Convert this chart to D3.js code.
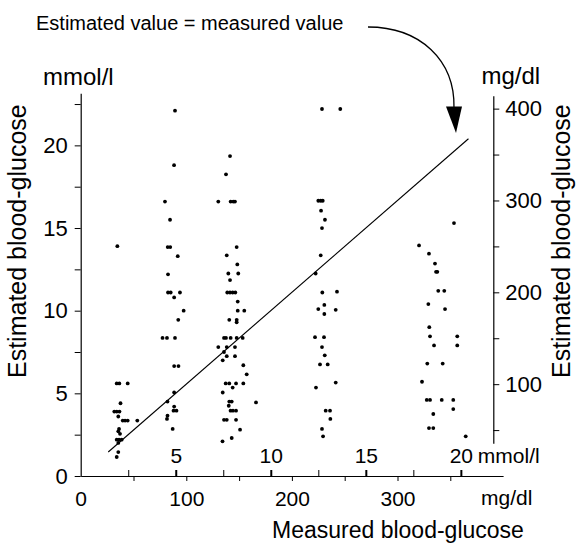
<!DOCTYPE html>
<html>
<head>
<meta charset="utf-8">
<script src="https://cdn.jsdelivr.net/npm/d3@7"></script>
<style>
  html, body { margin: 0; padding: 0; background: #fff; }
  svg { display: block; }
  text { font-family: "Liberation Sans", Arial, sans-serif; fill: #000; }
</style>
</head>
<body>
<svg id="chart" width="576" height="547"></svg>
<script>
// Measured blood-glucose (mg/dl) and estimated blood-glucose (mmol/l), one entry per patient estimate
const measuredMgdl = [
  // ~ 2 mmol/l group
  34.7, 34.1, 36.6, 44.5, 37.7, 31.8, 34.1, 36.7, 35.6, 39.8, 42.0, 44.5, 53.6,
  36.3, 35.6, 37.2, 34.1, 36.3, 38.8, 35.6, 35.6, 34.1,
  // ~ 5 mmol/l group
  89.3, 88.4, 79.8, 84.6, 82.4, 84.8, 91.9, 82.7, 82.7, 85.2, 94.0, 88.5, 97.5,
  92.4, 77.5, 81.7, 89.3, 88.5, 92.6, 88.5, 82.2, 88.5, 87.9, 90.7, 82.2, 81.7, 87.1,
  // ~ 8 mmol/l group
  141.4, 137.6, 130.3, 142.0, 144.5, 146.1, 147.7, 138.3, 148.3, 139.8, 149.2, 141.4,
  138.8, 141.4, 143.9, 146.4, 148.7, 148.7, 154.9, 140.7, 147.7, 147.7, 135.7, 137.6,
  142.0, 147.7, 153.4, 130.3, 138.3, 146.1, 135.7, 138.3, 146.1, 134.5, 154.0, 157.2,
  137.3, 140.7, 147.1, 154.0, 143.9, 134.5, 166.0, 140.7, 143.0, 140.2, 141.9, 144.2,
  147.1, 135.7, 138.3, 147.1, 150.9, 143.0, 134.3,
  // ~ 12.5 mmol/l group
  228.5, 245.8, 225.0, 227.3, 229.2, 227.6, 231.3, 228.5, 227.3, 222.5, 228.8, 242.7,
  230.7, 225.0, 230.7, 241.5, 221.9, 230.4, 228.5, 231.1, 226.6, 233.9, 222.8, 241.5,
  232.0, 236.1, 236.4, 228.5, 229.5,
  // ~ 18.5 mmol/l group
  353.5, 320.4, 329.8, 335.5, 336.5, 337.7, 338.6, 344.3, 329.2, 345.0, 330.1, 330.8,
  356.6, 334.6, 356.6, 328.2, 342.8, 323.2, 327.7, 330.8, 341.9, 352.8, 333.9, 352.8,
  329.8, 333.9, 364.6
];
const estimatedMmol = [
  13.9, 5.6, 5.6, 5.6, 4.4, 3.9, 3.9, 3.9, 3.6, 3.35, 3.35, 3.35, 3.35,
  2.85, 2.7, 2.55, 2.2, 2.2, 2.2, 2.0, 1.45, 1.15,
  22.1, 18.8, 16.6, 15.5, 13.85, 13.85, 13.3, 12.2, 11.1, 11.1, 11.1, 10.8, 10.0,
  9.45, 8.35, 8.35, 8.35, 6.65, 6.65, 5.05, 4.5, 4.2, 3.95, 3.95, 3.65, 3.45, 2.85,
  19.35, 18.25, 16.6, 16.6, 16.6, 16.6, 13.85, 13.35, 12.8, 12.25, 12.25, 11.85,
  11.1, 11.1, 11.1, 11.1, 10.55, 10.0, 10.0, 9.45, 9.45, 9.3, 8.35, 8.35,
  8.35, 8.35, 8.35, 7.8, 7.8, 7.8, 7.5, 7.25, 7.25, 7.0, 6.7, 6.15,
  5.6, 5.6, 5.6, 5.6, 5.35, 5.05, 4.45, 4.5, 4.5, 4.25, 3.95, 3.95,
  3.95, 3.4, 3.4, 3.4, 2.8, 2.3, 2.1,
  22.2, 22.2, 16.65, 16.65, 16.65, 16.05, 15.5, 15.0, 13.35, 12.25, 11.1, 11.15,
  10.35, 10.1, 9.8, 10.05, 8.4, 8.4, 7.8, 7.3, 6.75, 6.75, 5.35, 5.65,
  3.95, 3.95, 3.45, 2.85, 2.4,
  15.3, 13.95, 13.45, 12.85, 12.35, 12.35, 11.2, 11.2, 10.4, 10.1, 9.0, 8.45,
  8.45, 7.9, 7.9, 6.8, 6.8, 5.7, 4.6, 4.6, 4.6, 4.6, 3.75, 4.05,
  2.9, 2.9, 2.4
];

// Axis tick values and labels
const mgdlPerMmol = 18;
const xMgTicks = [0, 50, 100, 150, 200, 250, 300, 350];
const xMgLabels = [0, 100, 200, 300];
const xMmolTicks = [2.5, 5, 7.5, 10, 12.5, 15, 17.5, 20];
const xMmolLabels = [5, 10, 15, 20];
const yMmolTicks = [0, 2.5, 5, 7.5, 10, 12.5, 15, 17.5, 20, 22.5];
const yMmolLabels = [0, 5, 10, 15, 20];
const yMgTicks = [50, 100, 150, 200, 250, 300, 350, 400];
const yMgLabels = [100, 200, 300, 400];
const identityLine = [1.45, 20.4]; // mmol/l, estimated = measured

const texts = {
  annotation: "Estimated value = measured value",
  yUnitLeft: "mmol/l",
  yUnitRight: "mg/dl",
  xUnitMg: "mg/dl",
  xUnitMmol: "mmol/l",
  yTitle: "Estimated blood-glucose",
  xTitle: "Measured blood-glucose"
};

const svg = d3.select("#chart");
svg.append("rect").attr("width", 576).attr("height", 547).attr("fill", "#fff");

// Scales
const xMg = d3.scaleLinear().domain([0, 400]).range([80.7, 503.1]);
const xMmol = d3.scaleLinear().domain([0, 400 / mgdlPerMmol]).range([80.7, 503.1]);
const yTopMmol = 23.15;
const yMmol = d3.scaleLinear().domain([0, yTopMmol]).range([476, 93.3]);
const yMg = d3.scaleLinear().domain([0, yTopMmol * mgdlPerMmol]).range([476, 93.3]);

// Left axis (mmol/l)
const gL = svg.append("g").attr("transform", "translate(80.7,0)")
  .call(d3.axisLeft(yMmol).tickValues(yMmolTicks).tickSize(6).tickSizeOuter(0).tickPadding(7)
    .tickFormat(d => yMmolLabels.includes(d) ? d : ""));
gL.selectAll("text").attr("font-size", 22).attr("font-family", "Liberation Sans, Arial, sans-serif");

// Right axis (mg/dl)
const yMgR = d3.scaleLinear().domain([35.6, 414]).range([yMg(35.6), yMg(414)]);
const gR = svg.append("g").attr("transform", "translate(493.3,0)")
  .call(d3.axisRight(yMgR).tickValues(yMgTicks).tickSize(6).tickSizeOuter(0).tickPadding(6)
    .tickFormat(d => yMgLabels.includes(d) ? d : ""));
gR.selectAll("text").attr("font-size", 22).attr("font-family", "Liberation Sans, Arial, sans-serif");

// Bottom axis (mg/dl)
const gB = svg.append("g").attr("transform", "translate(0,476)")
  .call(d3.axisBottom(xMg).tickValues(xMgTicks).tickSize(5).tickSizeOuter(0).tickPadding(10)
    .tickFormat(d => xMgLabels.includes(d) ? d : ""));
gB.selectAll(".tick line").filter(d => d === 0).remove();
gB.selectAll("text").attr("font-size", 21).attr("font-family", "Liberation Sans, Arial, sans-serif");

// Inner mmol/l scale on the measured axis
const gM = svg.append("g").attr("transform", "translate(0,476)")
  .call(d3.axisTop(xMmol).tickValues(xMmolTicks).tickSize(6).tickPadding(7)
    .tickFormat(d => xMmolLabels.includes(d) ? d : ""));
gM.select(".domain").remove();
gM.selectAll(".tick line").attr("stroke-width", d => xMmolLabels.includes(d) ? 2 : 1);
gM.selectAll("text").attr("font-size", 21).attr("font-family", "Liberation Sans, Arial, sans-serif");

svg.selectAll(".domain").attr("stroke", "#000").attr("stroke-width", 1.2);

// Unit labels
svg.append("text").attr("x", xMmol(20) + 17).attr("y", 476 - 13).attr("font-size", 21).text(texts.xUnitMmol);
svg.append("text").attr("x", 481).attr("y", 476 + 29).attr("font-size", 21).text(texts.xUnitMg);
svg.append("text").attr("x", 43).attr("y", 85).attr("font-size", 24).text(texts.yUnitLeft);
svg.append("text").attr("x", 481.5).attr("y", 84).attr("font-size", 24).text(texts.yUnitRight);

// Axis titles
svg.append("text").attr("transform", "translate(26,378) rotate(-90)").attr("font-size", 25).text(texts.yTitle);
svg.append("text").attr("transform", "translate(569.5,378) rotate(-90)").attr("font-size", 25).text(texts.yTitle);
svg.append("text").attr("x", 272).attr("y", 538).attr("font-size", 23).text(texts.xTitle);

// Identity line
svg.append("line")
  .attr("x1", xMmol(identityLine[0])).attr("y1", yMmol(identityLine[0]))
  .attr("x2", xMmol(identityLine[1])).attr("y2", yMmol(identityLine[1]))
  .attr("stroke", "#000").attr("stroke-width", 1.1);

// Points
svg.append("g").selectAll("circle")
  .data(measuredMgdl.map((m, i) => [m, estimatedMmol[i]]))
  .join("circle")
  .attr("cx", d => xMg(d[0]))
  .attr("cy", d => yMmol(d[1]))
  .attr("r", 1.9)
  .attr("fill", "#000");

// Annotation and arrow
svg.append("text").attr("x", 36).attr("y", 30).attr("font-size", 20).text(texts.annotation);
svg.append("path")
  .attr("d", "M368,27 C420,27 455,60 454,108")
  .attr("fill", "none").attr("stroke", "#000").attr("stroke-width", 1.3);
svg.append("path")
  .attr("d", "M446,106.5 L462,106.5 L456,133 Z")
  .attr("fill", "#000");
</script>
</body>
</html>
